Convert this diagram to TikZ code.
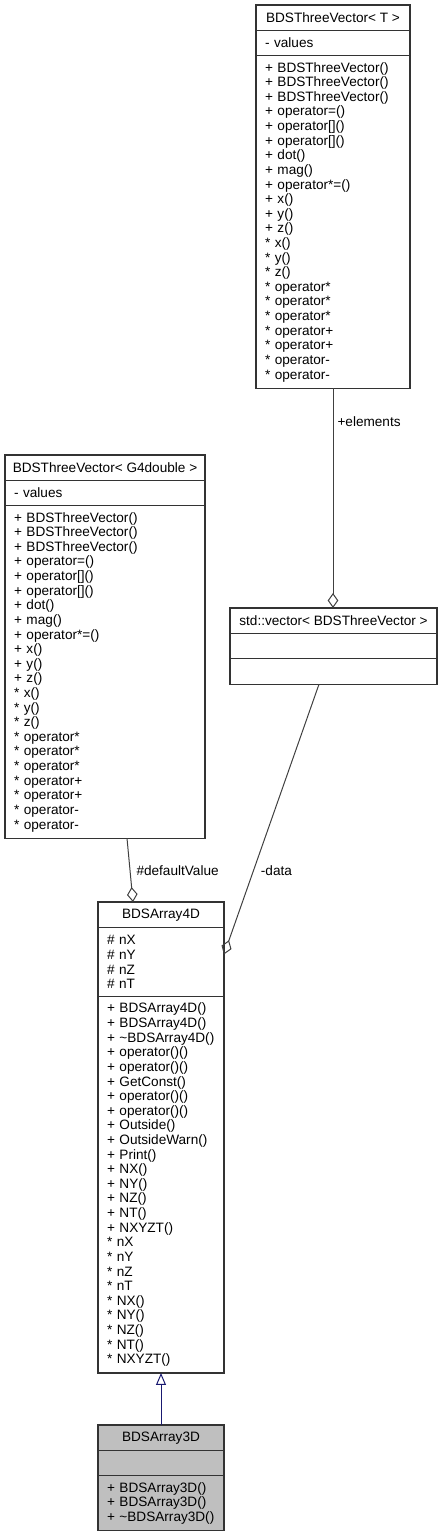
\documentclass[tikz,border=0pt]{standalone}
\usepackage{fontspec}
\setmainfont{Liberation Sans}
\usepackage{tikz}
\usetikzlibrary{arrows.meta,positioning,calc}

\definecolor{edgegray}{HTML}{404040}
\definecolor{inhblue}{HTML}{191970}
\definecolor{rootgray}{HTML}{BFBFBF}

\tikzset{
  frame/.style={draw=black!80, line width=0.6pt, fill=white, inner ysep=0pt, outer sep=0pt},
  head/.style={frame, inner xsep=0pt, minimum width=#1, minimum height=12.7pt, align=center},
  sect/.style 2 args={frame, inner xsep=4.5pt, text width=#1-9pt, align=left,
    minimum height=#2*7.31pt+5.4pt},
  agg/.style={draw=edgegray, line width=0.5pt, -{Diamond[open, length=7.5pt, width=5.3pt]}},
  inherit/.style={draw=inhblue, line width=0.5pt, -{Triangle[open, length=6pt, width=5pt]}},
  lbl/.style={inner sep=0pt}
}

\begin{document}
\begin{tikzpicture}[x=0.5pt, y=-0.5pt, font=\fontsize{6.8}{7.31}\selectfont]
  \useasboundingbox (0,0) rectangle (442,1536);
  % BDSThreeVector< T >
  \node[head=77pt, anchor=north west] (tvec) at (256,5) {BDSThreeVector< T >};
  \node[sect={77pt}{1}, below=0pt of tvec] (tvecA) {- values};
  \node[sect={77pt}{22}, below=0pt of tvecA] (tvecM) {+ BDSThreeVector()\\ + BDSThreeVector()\\ + BDSThreeVector()\\
    + operator=()\\ + operator[]()\\ + operator[]()\\ + dot()\\ + mag()\\ + operator*=()\\
    + x()\\ + y()\\ + z()\\ {*} x()\\ {*} y()\\ {*} z()\\ {*} operator*\\ {*} operator*\\
    {*} operator*\\ {*} operator+\\ {*} operator+\\ {*} operator-\\ {*} operator-};
  % BDSThreeVector< G4double >
  \node[head=100pt, anchor=north west] (tvecd) at (5,455) {BDSThreeVector< G4double >};
  \node[sect={100pt}{1}, below=0pt of tvecd] (tvecdA) {- values};
  \node[sect={100pt}{22}, below=0pt of tvecdA] (tvecdM) {+ BDSThreeVector()\\ + BDSThreeVector()\\ + BDSThreeVector()\\
    + operator=()\\ + operator[]()\\ + operator[]()\\ + dot()\\ + mag()\\ + operator*=()\\
    + x()\\ + y()\\ + z()\\ {*} x()\\ {*} y()\\ {*} z()\\ {*} operator*\\ {*} operator*\\
    {*} operator*\\ {*} operator+\\ {*} operator+\\ {*} operator-\\ {*} operator-};
  % std::vector
  \node[head=103.5pt, anchor=north west] (stdvec) at (230,608) {std::vector< BDSThreeVector >};
  \node[sect={103.5pt}{1}, below=0pt of stdvec] (stdvecA) {};
  \node[sect={103.5pt}{1}, below=0pt of stdvecA] (stdvecM) {};
  % BDSArray4D
  \node[head=63pt, anchor=north west] (arr4) at (98,902) {BDSArray4D};
  \node[sect={63pt}{4}, below=0pt of arr4] (arr4A) {\# nX\\ \# nY\\ \# nZ\\ \# nT};
  \node[sect={63pt}{25}, below=0pt of arr4A] (arr4M) {+ BDSArray4D()\\ + BDSArray4D()\\ + \textasciitilde BDSArray4D()\\
    + operator()()\\ + operator()()\\ + GetConst()\\ + operator()()\\ + operator()()\\
    + Outside()\\ + OutsideWarn()\\ + Print()\\ + NX()\\ + NY()\\ + NZ()\\ + NT()\\ + NXYZT()\\
    {*} nX\\ {*} nY\\ {*} nZ\\ {*} nT\\ {*} NX()\\ {*} NY()\\ {*} NZ()\\ {*} NT()\\ {*} NXYZT()};
  % BDSArray3D (root)
  \node[head=63pt, fill=rootgray, anchor=north west] (arr3) at (98,1425) {BDSArray3D};
  \node[sect={63pt}{1}, fill=rootgray, below=0pt of arr3] (arr3A) {};
  \node[sect={63pt}{3}, fill=rootgray, below=0pt of arr3A] (arr3M) {+ BDSArray3D()\\ + BDSArray3D()\\ + \textasciitilde BDSArray3D()};
  % relations
  \draw[agg] (tvecM.south) -- (tvecM.south |- stdvec.north)
    node[lbl, pos=0.15, right=2pt] {+elements};
  \draw[agg] ($(tvecdM.south)+(22,0)$) -- ($(arr4.north)+(-28,0)$)
    node[lbl, pos=0.5, right=3pt] {\#defaultValue};
  \coordinate (dataend) at ($(arr4A.north east)+(0,27)$);
  \draw[agg] ($(stdvecM.south)+(-14.5,0)$) -- (dataend)
    node[lbl, pos=0.69, right=3.5pt] {-data};
  \draw[inherit] (arr3.north) -- (arr4M.south);
\end{tikzpicture}
\end{document}
